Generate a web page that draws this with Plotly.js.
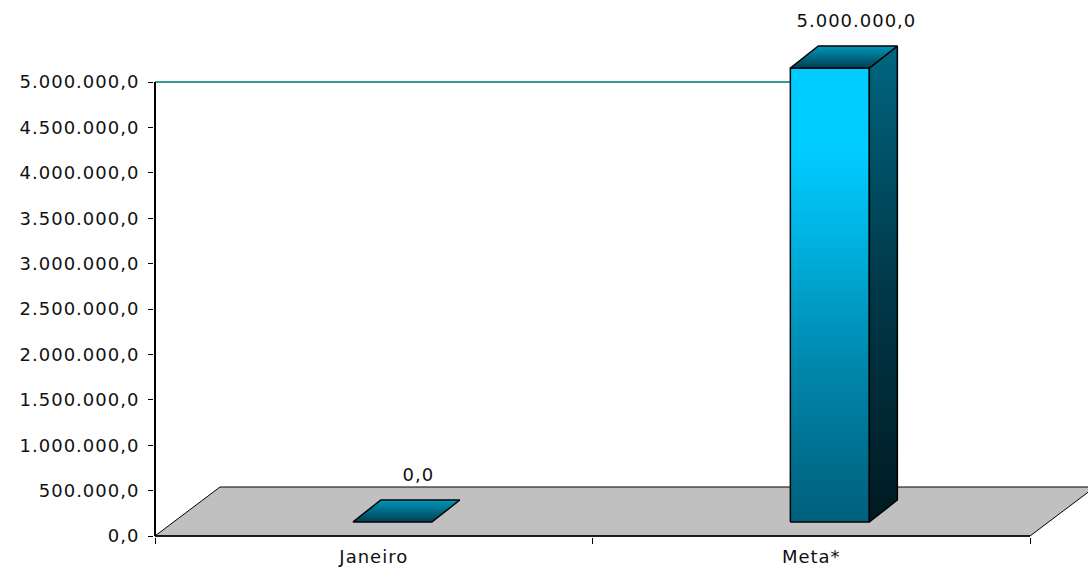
<!DOCTYPE html>
<html>
<head>
<meta charset="utf-8">
<script src="https://cdn.plot.ly/plotly-3.0.1.min.js"></script>
<style>
  html, body { margin: 0; padding: 0; background: #fff; }
  #chart { width: 1088px; height: 580px; }
  .main-svg text { letter-spacing: 1px; }
</style>
</head>
<body>
<div id="chart"></div>
<script>
// ---- data ----
const categories = ['Janeiro', 'Meta*'];
const values = [0, 5000000];
const yTickValues = [0, 500000, 1000000, 1500000, 2000000, 2500000, 3000000, 3500000, 4000000, 4500000, 5000000];

// ---- geometry (pixels) ----
const W = 1088, H = 580;
const ML = 154, MR = 0, MT = 10, MB = 43;
const PX_X = 437.5;          // px per category unit
const PX_Y = 90.8 / 1e6;     // px per value unit
const plotW = W - ML - MR, plotH = H - MT - MB;
const xRange = [-0.5 - 1 / PX_X, -0.5 + (plotW - 1) / PX_X];
const yRange = [-1 / PX_Y, (plotH - 1) / PX_Y];
const ux = px => px / PX_X;
const uy = px => px / PX_Y;

const FLOOR_DX = 65, FLOOR_DY = 49;
const BAR_OFF_X = 18.6, BAR_OFF_Y = 14;
const BAR_W = 79, BAR_DX = 28, BAR_DY = 22;

const FONT = {family: 'DejaVu Sans, Verdana, sans-serif', size: 18, color: '#111'};

function fmt(v) {
  const s = Math.abs(v).toFixed(1);
  let [ip, dp] = s.split('.');
  ip = ip.replace(/\B(?=(\d{3})+(?!\d))/g, '.');
  return (v < 0 ? '-' : '') + ip + ',' + dp;
}

const traces = [];
const xs = categories.map((c, i) => i);

// floor
traces.push({
  type: 'scatter', mode: 'lines', hoverinfo: 'skip', showlegend: false,
  x: [-0.5, 1.5, 1.5 + ux(FLOOR_DX), -0.5 + ux(FLOOR_DX), -0.5],
  y: [0, 0, uy(FLOOR_DY), uy(FLOOR_DY), 0],
  fill: 'toself', fillcolor: '#c0c0c0',
  line: {color: '#000', width: 1}
});

// target line at Meta value (behind the bars)
traces.push({
  type: 'scatter', mode: 'lines', hoverinfo: 'skip', showlegend: false,
  x: [-0.5, xs[1]], y: [values[1], values[1]],
  line: {color: '#339999', width: 2}
});

// bars (pseudo 3D)
xs.forEach((c, i) => {
  const v = values[i];
  const cx = c + ux(BAR_OFF_X);
  const xl = cx - ux(BAR_W / 2), xr = cx + ux(BAR_W / 2);
  const b = uy(BAR_OFF_Y), t = b + v;
  const ddx = ux(BAR_DX), ddy = uy(BAR_DY);
  if (v > 0) {
    // front face
    traces.push({
      type: 'scatter', mode: 'lines', hoverinfo: 'skip', showlegend: false,
      x: [xl, xr, xr, xl, xl], y: [b, b, t, t, b],
      fill: 'toself',
      fillgradient: {type: 'vertical', start: b, stop: t,
        colorscale: [[0, '#005f7c'], [0.35, '#0088ad'], [0.65, '#00b6e6'], [0.82, '#00ccff'], [1, '#00ccff']]},
      line: {color: '#000', width: 1.5}
    });
    // side face
    traces.push({
      type: 'scatter', mode: 'lines', hoverinfo: 'skip', showlegend: false,
      x: [xr, xr + ddx, xr + ddx, xr, xr], y: [b, b + ddy, t + ddy, t, b],
      fill: 'toself',
      fillgradient: {type: 'vertical', start: b, stop: t + ddy,
        colorscale: [[0, '#001a22'], [0.5, '#00394a'], [1, '#006680']]},
      line: {color: '#000', width: 1.5}
    });
  }
  // top face
  traces.push({
    type: 'scatter', mode: 'lines', hoverinfo: 'skip', showlegend: false,
    x: [xl, xr, xr + ddx, xl + ddx, xl], y: [t, t, t + ddy, t + ddy, t],
    fill: 'toself',
    fillgradient: {type: 'vertical', start: t, stop: t + ddy,
      colorscale: [[0, '#003e52'], [1, '#0098ba']]},
    line: {color: '#000', width: 1.5}
  });
});

// axis lines
traces.push({
  type: 'scatter', mode: 'lines', hoverinfo: 'skip', showlegend: false,
  x: [-0.5, -0.5], y: [0, yTickValues[yTickValues.length - 1]],
  line: {color: '#000', width: 2}
});
traces.push({
  type: 'scatter', mode: 'lines', hoverinfo: 'skip', showlegend: false,
  xaxis: 'x2',
  x: [-0.5, 1.5], y: [0, 0],
  line: {color: '#000', width: 1.5}
});

const annotations = xs.map((c, i) => ({
  x: c, y: values[i], xref: 'x', yref: 'y',
  xshift: 45, yshift: 62,
  text: fmt(values[i]), showarrow: false,
  font: FONT, xanchor: 'center', yanchor: 'middle'
}));

const layout = {
  width: W, height: H,
  margin: {l: ML, r: MR, t: MT, b: MB, pad: 0},
  paper_bgcolor: '#fff', plot_bgcolor: '#fff',
  separators: ',.',
  showlegend: false,
  font: FONT,
  xaxis: {
    range: xRange, fixedrange: true,
    tickvals: [-0.5, 0.5, 1.5], ticks: 'outside', ticklen: 6, tickwidth: 1, tickcolor: '#000',
    showticklabels: false, showgrid: false, zeroline: false, showline: false
  },
  xaxis2: {
    range: xRange, overlaying: 'x', anchor: 'y', side: 'bottom', fixedrange: true,
    tickvals: xs, ticktext: categories, ticks: '',
    showgrid: false, zeroline: false, showline: false,
    tickfont: FONT, ticklabelstandoff: 7
  },
  yaxis: {
    range: yRange, fixedrange: true,
    tickvals: yTickValues, tickformat: ',.1f',
    ticks: 'outside', ticklen: 5, tickwidth: 1, tickcolor: '#000',
    showgrid: false, zeroline: false, showline: false,
    tickfont: FONT, ticklabelstandoff: 5
  },
  annotations: annotations
};

Plotly.newPlot('chart', traces, layout, {staticPlot: true, displayModeBar: false});
</script>
</body>
</html>
